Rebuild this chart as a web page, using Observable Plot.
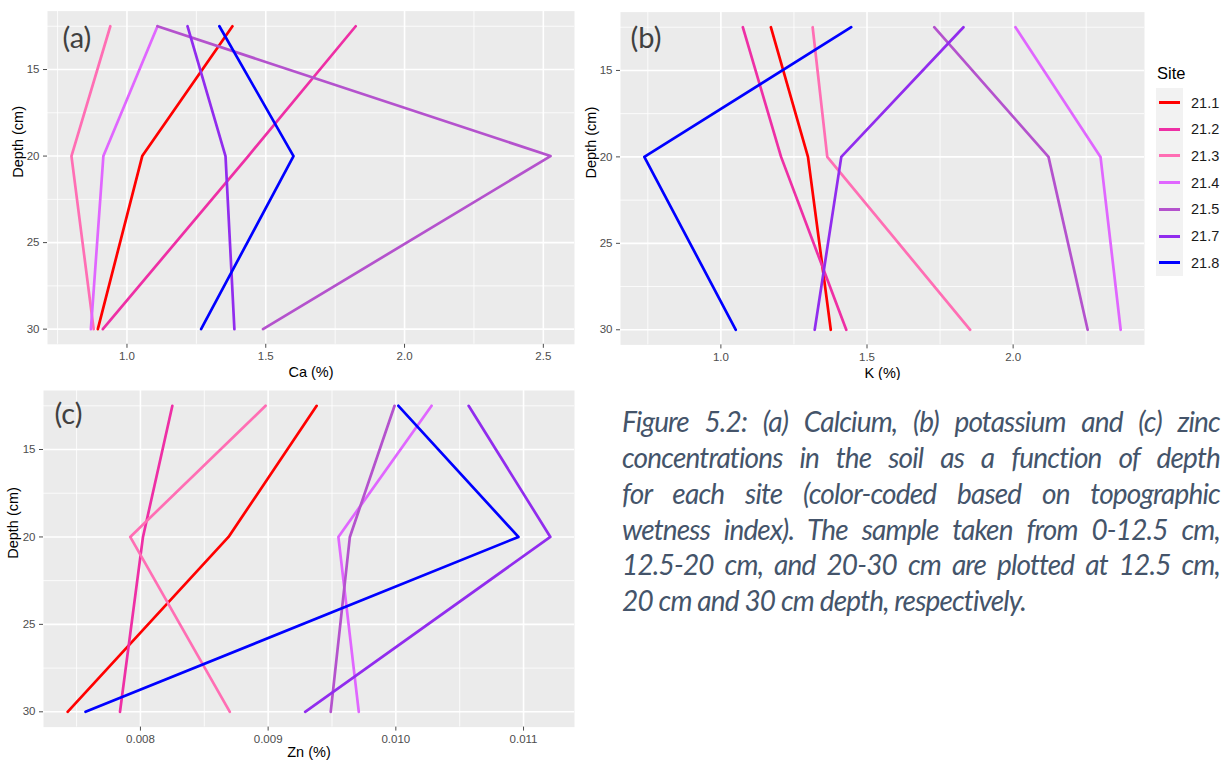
<!DOCTYPE html>
<html>
<head>
<meta charset="utf-8">
<script src="https://cdn.jsdelivr.net/npm/d3@7"></script>
<script src="https://cdn.jsdelivr.net/npm/@observablehq/plot@0.6"></script>
<style>
  html, body { margin: 0; padding: 0; background: #fff; overflow: hidden; }
  #fig { position: relative; width: 1227px; height: 760px; overflow: hidden;
         font-family: "Liberation Sans", Arial, sans-serif; }
  .panel { position: absolute; }
  .panel svg { overflow: hidden; }
  #legend-title { position: absolute; left: 1157px; top: 63px; font-size: 16.5px; line-height: 20px; color: #000; }
  #legend-keys { position: absolute; left: 1156px; top: 88px; width: 27px; height: 188px; background: #F2F2F2; }
  .key-line { position: absolute; left: 1159px; width: 21px; height: 3px; }
  .key-label { position: absolute; left: 1191px; font-size: 14.5px; line-height: 16px; color: #1a1a1a; }
  #caption { position: absolute; left: 622px; width: 598px; color: #44546A;
             font-family: Lato, "Open Sans", sans-serif; font-style: italic; }
  #caption div { white-space: nowrap; }
  #caption div.just { text-align: justify; text-align-last: justify; white-space: normal; }
</style>
</head>
<body>
<div id="fig"></div>
<script>
// Sites, their line colours, and the three sampled depths (cm)
const sites = ["21.1", "21.2", "21.3", "21.4", "21.5", "21.7", "21.8"];
const siteColors = ["#FF0000", "#EE2FA5", "#FF6EB4", "#E066FF", "#B452CD", "#912CEE", "#0000FF"];
const depths = [12.5, 20, 30];

// Concentrations per site, at 12.5, 20 and 30 cm
const caValues = [
  [1.380, 1.055, 0.895],
  [1.824, 1.437, 0.913],
  [0.940, 0.800, 0.880],
  [1.110, 0.915, 0.870],
  [1.110, 2.526, 1.490],
  [1.218, 1.355, 1.387],
  [1.333, 1.600, 1.267]
];
const kValues = [
  [1.171, 1.298, 1.376],
  [1.075, 1.206, 1.429],
  [1.314, 1.364, 1.853],
  [2.008, 2.299, 2.368],
  [1.730, 2.121, 2.255],
  [1.830, 1.412, 1.321],
  [1.446, 0.738, 1.051]
];
const znValues = [
  [0.00938, 0.00869, 0.00743],
  [0.00825, 0.00802, 0.00784],
  [0.00898, 0.00792, 0.00870],
  [0.01028, 0.00955, 0.00971],
  [0.00999, 0.00964, 0.00949],
  [0.01057, 0.01121, 0.00929],
  [0.01002, 0.01096, 0.00757]
];

// Axis ticks
const depthTicks = [15, 20, 25, 30];
const depthMinor = [12.5, 17.5, 22.5, 27.5];
const caTicks = [1.0, 1.5, 2.0, 2.5];
const caMinor = [0.75, 1.25, 1.75, 2.25];
const kTicks = [1.0, 1.5, 2.0];
const kMinor = [0.75, 1.25, 1.75, 2.25];
const znTicks = [0.008, 0.009, 0.010, 0.011];
const znMinor = [0.0075, 0.0085, 0.0095, 0.0105];

const captionLines = [
  "Figure 5.2: (a) Calcium, (b) potassium and (c) zinc",
  "concentrations in the soil as a function of depth",
  "for each site (color-coded based on topographic",
  "wetness index). The sample taken from 0-12.5 cm,",
  "12.5-20 cm, and 20-30 cm are plotted at 12.5 cm,",
  "20 cm and 30 cm depth, respectively."
];

const fig = document.getElementById("fig");

function toRows(values) {
  return sites.flatMap((site, i) => depths.map((depth, j) => ({site, depth, value: values[i][j]})));
}

// One depth-profile panel in the style of ggplot's grey theme
function profilePanel({values, xLabel, tag, ticks, minor, format, left, top, width, height,
                       margin, tagOffset, titleOffsetX, titleOffsetY}) {
  const rows = toRows(values);
  const [lo, hi] = d3.extent(rows, d => d.value);
  const xPad = (hi - lo) * 0.05;
  const yPad = (d3.max(depths) - d3.min(depths)) * 0.05;
  const chart = Plot.plot({
    width, height,
    marginLeft: margin[3], marginRight: margin[1], marginTop: margin[0], marginBottom: margin[2],
    style: {background: "transparent", fontFamily: "'Liberation Sans', Arial, sans-serif"},
    x: {domain: [lo - xPad, hi + xPad]},
    y: {domain: [d3.min(depths) - yPad, d3.max(depths) + yPad], reverse: true},
    color: {domain: sites, range: siteColors},
    marks: [
      Plot.frame({fill: "#EBEBEB", stroke: "none"}),
      Plot.gridX(minor, {stroke: "#FFFFFF", strokeOpacity: 1, strokeWidth: 0.8}),
      Plot.gridY(depthMinor, {stroke: "#FFFFFF", strokeOpacity: 1, strokeWidth: 0.8}),
      Plot.gridX(ticks, {stroke: "#FFFFFF", strokeOpacity: 1, strokeWidth: 1.6}),
      Plot.gridY(depthTicks, {stroke: "#FFFFFF", strokeOpacity: 1, strokeWidth: 1.6}),
      Plot.axisX(ticks, {tickFormat: format, tickSize: 4, tickPadding: 4, fontSize: 11.5,
                         color: "#4D4D4D", label: null}),
      Plot.axisY(depthTicks, {tickSize: 4, tickPadding: 4, fontSize: 11.5,
                              color: "#4D4D4D", label: null}),
      Plot.line(rows, {x: "value", y: "depth", z: "site", stroke: "site",
                       strokeWidth: 2.7, strokeLinejoin: "round"}),
      Plot.text([xLabel], {frameAnchor: "bottom", dy: titleOffsetY, fontSize: 14.5, fill: "#000",
                           lineAnchor: "middle"}),
      Plot.text(["Depth (cm)"], {frameAnchor: "left", dx: titleOffsetX, rotate: -90, fontSize: 14.5,
                                 fill: "#000", lineAnchor: "middle"}),
      Plot.text([tag], {frameAnchor: "top-left", textAnchor: "start", lineAnchor: "top",
                        dx: tagOffset[0], dy: tagOffset[1], fontSize: 29, fill: "#404040",
                        fontFamily: "Lato, 'Open Sans', sans-serif"})
    ]
  });
  const holder = document.createElement("div");
  holder.className = "panel";
  holder.style.left = left + "px";
  holder.style.top = top + "px";
  holder.appendChild(chart);
  fig.appendChild(holder);
}

profilePanel({values: caValues, xLabel: "Ca (%)", tag: "(a)", ticks: caTicks, minor: caMinor,
  format: d3.format(".1f"), left: 0, top: 0, width: 590, height: 380,
  margin: [10.6, 16, 36.2, 47], tagOffset: [15, 16], titleOffsetX: -29, titleOffsetY: 28.5});

profilePanel({values: kValues, xLabel: "K (%)", tag: "(b)", ticks: kTicks, minor: kMinor,
  format: d3.format(".1f"), left: 580, top: 0, width: 570, height: 380,
  margin: [11.6, 6, 35.6, 40], tagOffset: [10, 15], titleOffsetX: -29, titleOffsetY: 28});

profilePanel({values: znValues, xLabel: "Zn (%)", tag: "(c)", ticks: znTicks, minor: znMinor,
  format: d3.format(".3f"), left: 0, top: 380, width: 590, height: 380,
  margin: [10, 16, 33.4, 43], tagOffset: [11, 13], titleOffsetX: -30, titleOffsetY: 25});

// Legend: site colour keys
const legendTitle = document.createElement("div");
legendTitle.id = "legend-title";
legendTitle.textContent = "Site";
fig.appendChild(legendTitle);
const legendKeys = document.createElement("div");
legendKeys.id = "legend-keys";
fig.appendChild(legendKeys);
sites.forEach((site, i) => {
  const cy = 102.5 + i * 26.7;
  const line = document.createElement("div");
  line.className = "key-line";
  line.style.top = (cy - 1.5) + "px";
  line.style.background = siteColors[i];
  fig.appendChild(line);
  const label = document.createElement("div");
  label.className = "key-label";
  label.style.top = (cy - 8) + "px";
  label.textContent = site;
  fig.appendChild(label);
});

// Figure caption, justified line by line, slightly tightened tracking
const caption = document.createElement("div");
caption.id = "caption";
const ctx = document.createElement("canvas").getContext("2d");
ctx.font = "italic 100px Lato";
const tracking = -0.03; // em
const widest = d3.max(captionLines, s => ctx.measureText(s).width / 100 + tracking * s.length);
const fontSize = Math.min(28, 598 / widest * 0.99);
const lineHeight = 35.8;
caption.style.fontSize = fontSize + "px";
caption.style.letterSpacing = tracking + "em";
caption.style.lineHeight = lineHeight + "px";
// first baseline at y = 433
caption.style.top = (433 - ((lineHeight - 1.2 * fontSize) / 2 + 0.987 * fontSize)) + "px";
captionLines.forEach((s, i) => {
  const div = document.createElement("div");
  if (i < captionLines.length - 1) div.className = "just";
  div.textContent = s;
  caption.appendChild(div);
});
fig.appendChild(caption);
</script>
</body>
</html>
